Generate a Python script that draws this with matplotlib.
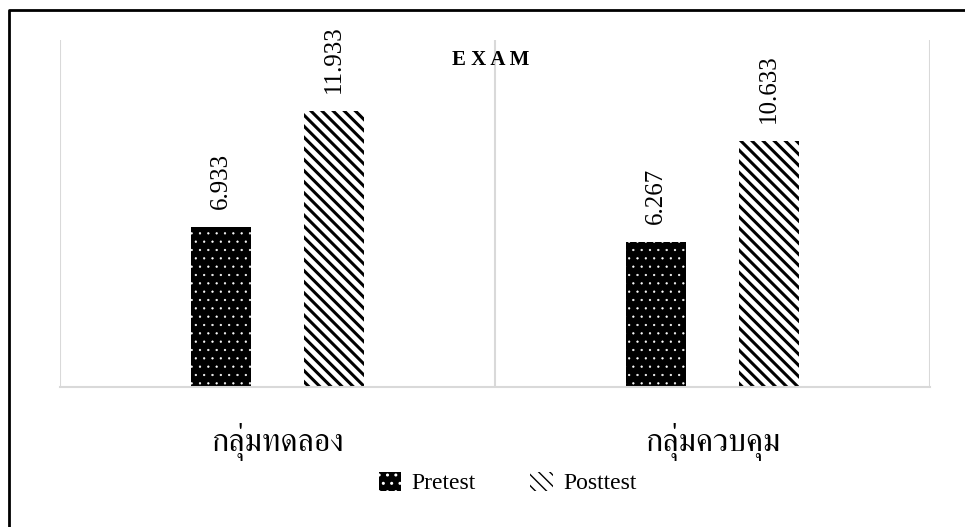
import matplotlib
matplotlib.use("Agg")
import matplotlib.pyplot as plt
from matplotlib.lines import Line2D
import numpy as np

# data
groups = ["กลุ่มทดลอง", "กลุ่มควบคุม"]
series = ["Pretest", "Posttest"]
pretest = [6.933, 6.267]
posttest = [11.933, 10.633]

plt.rcParams["font.family"] = ["Liberation Serif", "FreeSerif"]

fig = plt.figure(figsize=(9.65, 5.27), dpi=100)
ax = fig.add_axes([0.0622, 0.2657, 0.9015, 0.6583])

x = np.arange(len(groups))
w = 0.136
off = 0.13

# small white dots on black
with plt.rc_context({"hatch.linewidth": 0.4}):
    b1 = ax.bar(x - off, pretest, w, color="black", edgecolor="white",
                linewidth=0, hatch="..", label=series[0])
# dense black diagonal stripes
with plt.rc_context({"hatch.linewidth": 2.2}):
    b2 = ax.bar(x + off, posttest, w, color="white", edgecolor="black",
                linewidth=0, hatch="\\\\\\", label=series[1])
for bars, hlw in ((b1, 0.4), (b2, 2.2)):
    for r in bars:
        if hasattr(r, "set_hatch_linewidth"):
            r.set_hatch_linewidth(hlw)

# value labels, rotated above each bar
for bars in (b1, b2):
    for r in bars:
        ax.annotate(f"{r.get_height():.3f}",
                    (r.get_x() + r.get_width() / 2, r.get_height()),
                    xytext=(0, 13), textcoords="offset points",
                    ha="center", va="bottom", rotation=90, fontsize=18)

ax.set_xlim(-0.5, len(groups) - 0.5)
ax.set_ylim(0, 15)
ax.set_yticks([])
ax.set_xticks(x)
ax.set_xticklabels(groups, family=["FreeSerif"], fontsize=23)
ax.tick_params(axis="x", length=0, pad=26)

# light category separators
for b in np.arange(-0.5, len(groups), 1.0):
    ax.axvline(b, color="#d9d9d9", lw=1.5, zorder=0)
for s in ["top", "left", "right"]:
    ax.spines[s].set_visible(False)
ax.spines["bottom"].set_color("#d9d9d9")
ax.spines["bottom"].set_linewidth(1.5)

fig.text(0.509, 0.886, "E X A M", ha="center", va="center",
         fontsize=15, fontweight="bold")

leg = fig.legend(loc="center", bbox_to_anchor=(0.526, 0.0835), ncol=2,
                 frameon=False, fontsize=17, handlelength=0.95, handleheight=0.9,
                 handletextpad=0.45, columnspacing=2.3)

# black frame on top and left edges
fig.add_artist(Line2D([0.0093, 0.0093, 1.0], [0.0, 0.981, 0.981],
                      transform=fig.transFigure, color="black", lw=2))

fig.savefig("out.png", dpi=100)
